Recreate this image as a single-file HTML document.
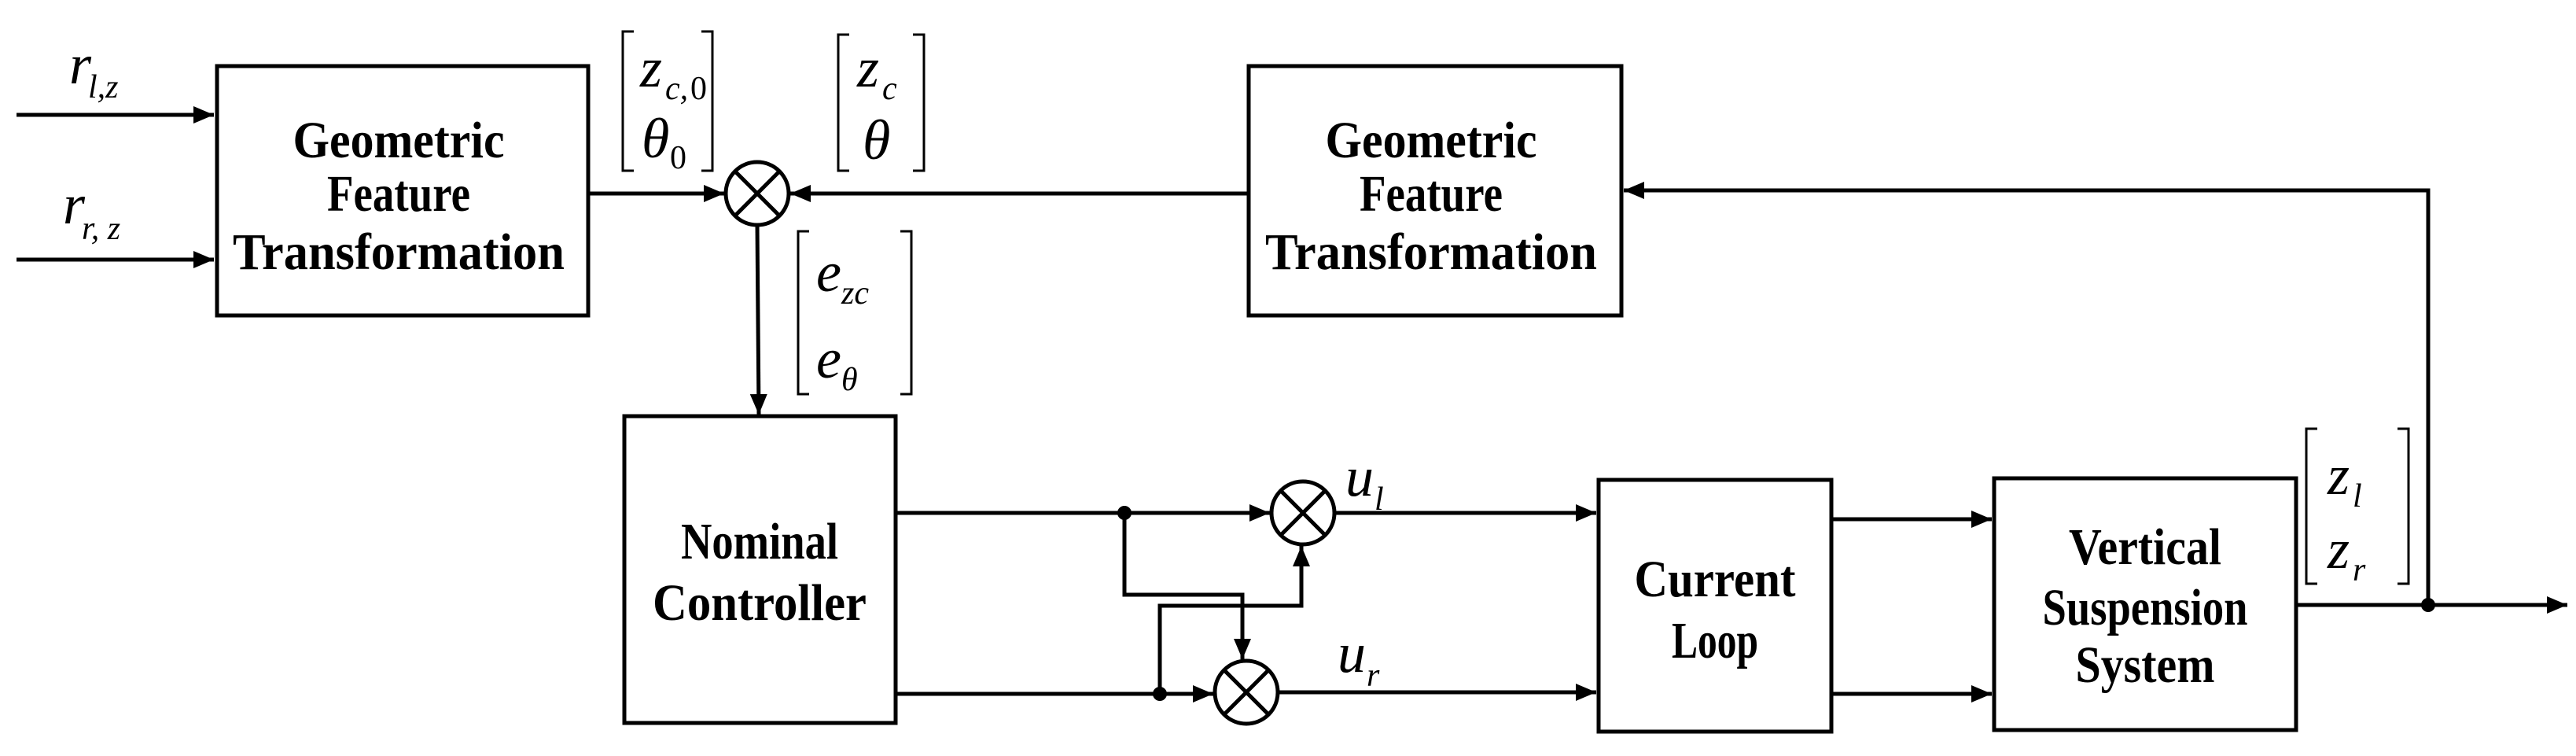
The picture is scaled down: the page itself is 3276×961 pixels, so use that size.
<!DOCTYPE html>
<html><head><meta charset="utf-8"><style>
html,body{margin:0;padding:0;background:#fff;}
svg{display:block;}
.b{font-family:"Liberation Serif",serif;font-weight:bold;font-size:66px;text-anchor:middle;}
.m{font-family:"Liberation Serif",serif;font-style:italic;font-size:72px;}
.s{font-family:"Liberation Serif",serif;font-style:italic;font-size:42px;}
.n{font-family:"Liberation Serif",serif;font-size:42px;}
</style></head><body>
<svg width="3276" height="961" viewBox="0 0 3276 961" xmlns="http://www.w3.org/2000/svg">
<defs>
<marker id="A" markerWidth="26" markerHeight="22" refX="26" refY="11" orient="auto" markerUnits="userSpaceOnUse"><path d="M0,0 L26,11 L0,22 z" fill="#000"/></marker></defs>
<g fill="none" stroke="#000" stroke-width="5">
<rect x="276" y="84" width="472" height="317"/>
<rect x="1588" y="84" width="474" height="317"/>
<rect x="794" y="529" width="345" height="390"/>
<rect x="2033" y="610" width="296" height="320"/>
<rect x="2536" y="608" width="384" height="320"/>
<circle cx="963" cy="246" r="40"/><line x1="935" y1="218" x2="991" y2="274"/><line x1="991" y1="218" x2="935" y2="274"/>
<circle cx="1657" cy="652" r="40"/><line x1="1629" y1="624" x2="1685" y2="680"/><line x1="1685" y1="624" x2="1629" y2="680"/>
<circle cx="1585" cy="880" r="40"/><line x1="1557" y1="852" x2="1613" y2="908"/><line x1="1613" y1="852" x2="1557" y2="908"/>
<line x1="21" y1="146" x2="272" y2="146" marker-end="url(#A)"/>
<line x1="21" y1="330" x2="272" y2="330" marker-end="url(#A)"/>
<line x1="748" y1="246" x2="921" y2="246" marker-end="url(#A)"/>
<line x1="1588" y1="246" x2="1005" y2="246" marker-end="url(#A)"/>
<line x1="963" y1="286" x2="965" y2="527" marker-end="url(#A)"/>
<line x1="1139" y1="652" x2="1615" y2="652" marker-end="url(#A)"/>
<line x1="1139" y1="882" x2="1543" y2="882" marker-end="url(#A)"/>
<polyline points="1430,652 1430,756 1580,756 1580,838" marker-end="url(#A)"/>
<polyline points="1475,882 1475,770 1655,770 1655,694" marker-end="url(#A)"/>
<line x1="1697" y1="652" x2="2030" y2="652" marker-end="url(#A)"/>
<line x1="1625" y1="880" x2="2030" y2="880" marker-end="url(#A)"/>
<line x1="2329" y1="660" x2="2533" y2="660" marker-end="url(#A)"/>
<line x1="2329" y1="882" x2="2533" y2="882" marker-end="url(#A)"/>
<line x1="2920" y1="769" x2="3265" y2="769" marker-end="url(#A)"/>
<polyline points="3088,769 3088,242 2065,242" marker-end="url(#A)"/>
</g>
<g fill="#000"><circle cx="1430" cy="652" r="9"/><circle cx="1475" cy="882" r="9"/><circle cx="3088" cy="769" r="9"/></g>
<g fill="none" stroke="#000" stroke-width="3">
<polyline points="806,40 792,40 792,217 806,217"/><polyline points="892,40 906,40 906,217 892,217"/>
<polyline points="1080,44 1066,44 1066,217 1080,217"/><polyline points="1161,44 1175,44 1175,217 1161,217"/>
<polyline points="1029,294 1015,294 1015,501 1029,501"/><polyline points="1145,294 1159,294 1159,501 1145,501"/>
<polyline points="2947,545 2933,545 2933,742 2947,742"/><polyline points="3049,545 3063,545 3063,742 3049,742"/>
</g>
<g lengthAdjust="spacingAndGlyphs">
<text class="b" x="507" y="200" textLength="269" lengthAdjust="spacingAndGlyphs">Geometric</text>
<text class="b" x="507" y="268" textLength="182" lengthAdjust="spacingAndGlyphs">Feature</text>
<text class="b" x="507" y="342" textLength="422" lengthAdjust="spacingAndGlyphs">Transformation</text>
<text class="b" x="1820" y="200" textLength="269" lengthAdjust="spacingAndGlyphs">Geometric</text>
<text class="b" x="1820" y="268" textLength="182" lengthAdjust="spacingAndGlyphs">Feature</text>
<text class="b" x="1820" y="342" textLength="422" lengthAdjust="spacingAndGlyphs">Transformation</text>
<text class="b" x="966" y="710" textLength="200" lengthAdjust="spacingAndGlyphs">Nominal</text>
<text class="b" x="966" y="788" textLength="272" lengthAdjust="spacingAndGlyphs">Controller</text>
<text class="b" x="2181" y="758" textLength="205" lengthAdjust="spacingAndGlyphs">Current</text>
<text class="b" x="2181" y="836" textLength="110" lengthAdjust="spacingAndGlyphs">Loop</text>
<text class="b" x="2728" y="717" textLength="194" lengthAdjust="spacingAndGlyphs">Vertical</text>
<text class="b" x="2728" y="794" textLength="261" lengthAdjust="spacingAndGlyphs">Suspension</text>
<text class="b" x="2728" y="867" textLength="177" lengthAdjust="spacingAndGlyphs">System</text>
</g>
<text class="m" x="88" y="106">r</text><text class="s" x="112" y="124">l,z</text>
<text class="m" x="80" y="284">r</text><text class="s" x="104" y="304">r, z</text>
<text class="m" x="814" y="110">z</text><text class="s" x="846" y="126">c,</text><text class="n" x="878" y="126">0</text>
<text class="m" x="816" y="200">θ</text><text class="n" x="852" y="214">0</text>
<text class="m" x="1090" y="110">z</text><text class="s" x="1122" y="126">c</text>
<text class="m" x="1097" y="202">θ</text>
<text class="m" x="1038" y="370">e</text><text class="s" x="1070" y="386">zc</text>
<text class="m" x="1038" y="480">e</text><text class="s" x="1070" y="496">θ</text>
<text class="m" x="2960" y="628">z</text><text class="s" x="2992" y="644">l</text>
<text class="m" x="2960" y="722">z</text><text class="s" x="2992" y="738">r</text>
<text class="m" x="1711" y="630">u</text><text class="s" x="1748" y="648">l</text>
<text class="m" x="1701" y="854">u</text><text class="s" x="1738" y="872">r</text>
</svg>
</body></html>
